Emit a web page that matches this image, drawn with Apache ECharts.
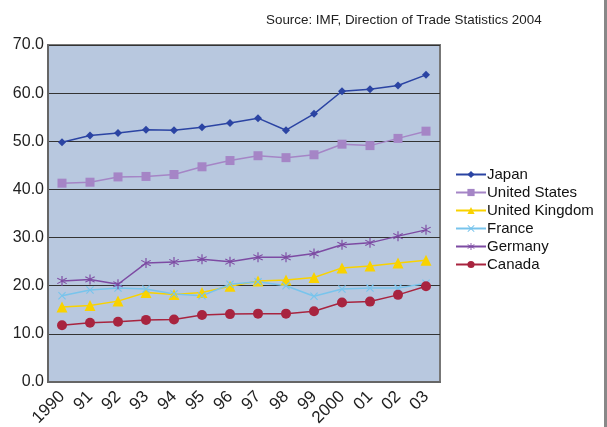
<!DOCTYPE html>
<html>
<head>
<meta charset="utf-8">
<script src="https://cdn.jsdelivr.net/npm/echarts@6/dist/echarts.min.js"></script>
<style>
  html, body { margin: 0; padding: 0; background: #fff; }
  #chart { width: 607px; height: 427px; }
</style>
</head>
<body>
<div id="chart"></div>
<script>
// years on the x axis
var years = ["1990", "91", "92", "93", "94", "95", "96", "97", "98", "99", "2000", "01", "02", "03"];
var yTicks = [0, 10, 20, 30, 40, 50, 60, 70];

var japan = [49.8, 51.2, 51.7, 52.4, 52.3, 52.9, 53.8, 54.8, 52.3, 55.7, 60.4, 60.8, 61.6, 63.8];
var unitedStates = [41.3, 41.5, 42.6, 42.7, 43.1, 44.7, 46.0, 47.0, 46.6, 47.2, 49.4, 49.1, 50.6, 52.1];
var unitedKingdom = [15.6, 15.9, 16.8, 18.6, 18.2, 18.6, 19.9, 21.0, 21.2, 21.7, 23.7, 24.1, 24.7, 25.3];
var france = [17.9, 19.1, 19.5, 19.3, 18.3, 17.9, 20.3, 20.8, 20.0, 17.8, 19.3, 19.5, 19.5, 20.5];
var germany = [21.0, 21.3, 20.3, 24.7, 24.9, 25.5, 25.0, 25.9, 25.9, 26.7, 28.5, 28.9, 30.3, 31.6];
var canada = [11.8, 12.3, 12.5, 12.9, 13.0, 13.9, 14.1, 14.2, 14.2, 14.7, 16.5, 16.7, 18.1, 19.9];

// asterisk marker for Germany, x marker for France
var starPath = "path://M9,0 L11,0 L11,7.6 L17.6,3.8 L18.6,5.5 L12,9.3 L12,10.7 L18.6,14.5 L17.6,16.2 L11,12.4 L11,20 L9,20 L9,12.4 L2.4,16.2 L1.4,14.5 L8,10.7 L8,9.3 L1.4,5.5 L2.4,3.8 L9,7.6 Z";
var crossPath = "path://M2,0 L10,8 L18,0 L20,2 L12,10 L20,18 L18,20 L10,12 L2,20 L0,18 L8,10 L0,2 Z";

var seriesDefs = [
    { name: "Japan", data: japan, color: "#2b44a3", symbol: "diamond", size: 8 },
    { name: "United States", data: unitedStates, color: "#a585c6", symbol: "rect", size: 9 },
    { name: "United Kingdom", data: unitedKingdom, color: "#f9d200", symbol: "triangle", size: 11 },
    { name: "France", data: france, color: "#78c4ec", symbol: crossPath, size: 8 },
    { name: "Germany", data: germany, color: "#7d4ba3", symbol: starPath, size: 10 },
    { name: "Canada", data: canada, color: "#a8243f", symbol: "circle", size: 10 }
];

var chart = echarts.init(document.getElementById("chart"));
var fontFam = "Liberation Sans, Arial, sans-serif";

var option = {
    animation: false,
    title: {
        text: "Source: IMF, Direction of Trade Statistics 2004",
        left: 261,
        top: 9,
        textStyle: { fontSize: 13.4, fontWeight: "normal", color: "#222", fontFamily: fontFam }
    },
    legend: {
        orient: "vertical",
        left: 450,
        top: 162,
        itemWidth: 30,
        itemHeight: 9,
        itemGap: 3,
        textStyle: { fontSize: 15, color: "#111", fontFamily: fontFam, padding: [0, 0, 0, -4] },
        data: seriesDefs.map(function (s) { return s.name; })
    },
    grid: {
        left: 48,
        right: 167,
        top: 45,
        bottom: 45,
        outerBoundsMode: "none",
        show: true,
        backgroundColor: "#b8c8df",
        borderColor: "#777",
        borderWidth: 2
    },
    xAxis: {
        type: "category",
        data: years,
        boundaryGap: true,
        axisLine: { lineStyle: { color: "#666", width: 2 } },
        axisTick: { inside: true, length: 5, lineStyle: { color: "#555", width: 1.5 } },
        axisLabel: {
            interval: 0, hideOverlap: false,
            rotate: 45, fontSize: 17, color: "#222", fontFamily: fontFam, margin: 12
        }
    },
    yAxis: {
        type: "value",
        min: yTicks[0],
        max: yTicks[yTicks.length - 1],
        interval: 10,
        axisLine: { show: true, lineStyle: { color: "#666", width: 2 } },
        axisTick: { show: false },
        splitLine: { lineStyle: { color: "#333", width: 1 } },
        axisLabel: {
            fontSize: 16, color: "#222", fontFamily: fontFam, margin: 4,
            formatter: function (v) { return v.toFixed(1); }
        }
    },
    graphic: [
        { type: "rect", shape: { x: 604, y: 0, width: 3, height: 427 }, style: { fill: "#888" } }
    ],
    series: seriesDefs.map(function (s) {
        return {
            name: s.name,
            type: "line",
            data: s.data,
            symbol: s.symbol,
            symbolSize: s.size,
            color: s.color,
            lineStyle: { width: 1.5, color: s.color },
            itemStyle: { color: s.color }
        };
    })
};

chart.setOption(option);
</script>
</body>
</html>
